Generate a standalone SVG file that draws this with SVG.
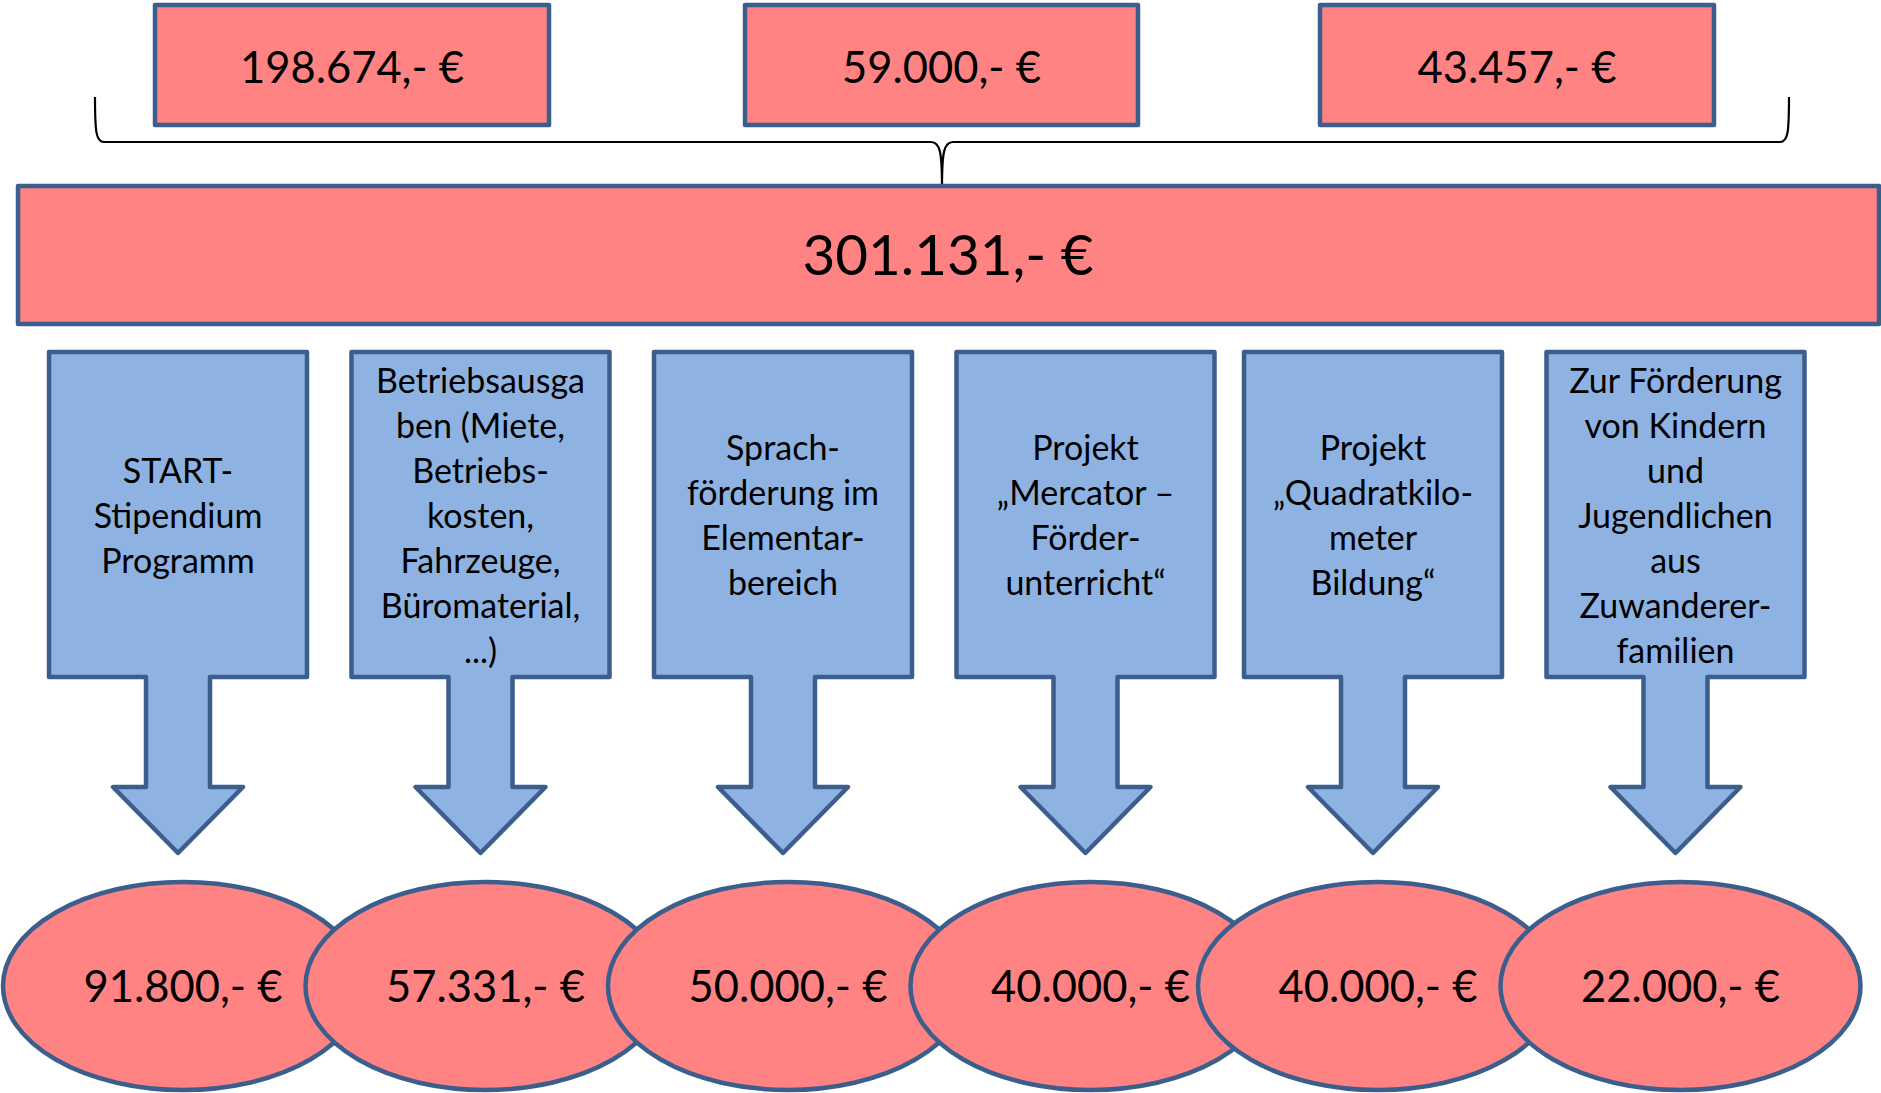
<svg xmlns="http://www.w3.org/2000/svg" width="1881" height="1093" viewBox="0 0 1881 1093">
<style>
.pink{fill:#FF8383;stroke:#3B5E8C;stroke-width:4.5;stroke-linejoin:round}
.blue{fill:#8EB3E2;stroke:#3B5E8C;stroke-width:4.5;stroke-linejoin:round}
.num{font-family:Lato,"Open Sans","Liberation Sans",sans-serif;font-size:43.5px;fill:#000;text-anchor:middle}
.big{font-size:56.5px}
.lbl{font-family:Lato,"Open Sans","Liberation Sans",sans-serif;font-size:34px;fill:#000;text-anchor:middle}
.brace{fill:none;stroke:#000;stroke-width:2.2}
</style>
<rect width="1881" height="1093" fill="#fff"/>
<g id="connectors">
<path class="brace" d="M95,97 C95,132 96,142 104,142 L931,142 C940,142 942,152 942,187 C942,152 944,142 953,142 L1780,142 C1788,142 1789,132 1789,97"/>
</g>
<g id="src1"><rect class="pink" x="155" y="5" width="394" height="120"/><text class="num" x="352" y="83">198.674,- €</text></g>
<g id="src2"><rect class="pink" x="745" y="5" width="393" height="120"/><text class="num" x="941.5" y="83">59.000,- €</text></g>
<g id="src3"><rect class="pink" x="1320" y="5" width="394" height="120"/><text class="num" x="1517" y="83">43.457,- €</text></g>
<g id="total"><rect class="pink" x="18" y="186" width="1861" height="138"/><text class="num big" x="948" y="275">301.131,- €</text></g>
<g id="arrow1"><path class="blue" d="M49,352 H307 V677 H210 V787 H243 L178,853 L113,787 H146 V677 H49 Z"/>
<text class="lbl"><tspan x="178" y="483">START-</tspan><tspan x="178" y="528">Stipendium</tspan><tspan x="178" y="573">Programm</tspan></text></g>
<g id="arrow2"><path class="blue" d="M351.5,352 H609.5 V677 H512.5 V787 H545.5 L480.5,853 L415.5,787 H448.5 V677 H351.5 Z"/>
<text class="lbl"><tspan x="480.5" y="393">Betriebsausga</tspan><tspan x="480.5" y="438">ben (Miete,</tspan><tspan x="480.5" y="483">Betriebs-</tspan><tspan x="480.5" y="528">kosten,</tspan><tspan x="480.5" y="573">Fahrzeuge,</tspan><tspan x="480.5" y="618">Büromaterial,</tspan><tspan x="480.5" y="663">...)</tspan></text></g>
<g id="arrow3"><path class="blue" d="M654,352 H912 V677 H815 V787 H848 L783,853 L718,787 H751 V677 H654 Z"/>
<text class="lbl"><tspan x="783" y="460">Sprach-</tspan><tspan x="783" y="505">förderung im</tspan><tspan x="783" y="550">Elementar-</tspan><tspan x="783" y="595">bereich</tspan></text></g>
<g id="arrow4"><path class="blue" d="M956.5,352 H1214.5 V677 H1117.5 V787 H1150.5 L1085.5,853 L1020.5,787 H1053.5 V677 H956.5 Z"/>
<text class="lbl"><tspan x="1085.5" y="460">Projekt</tspan><tspan x="1085.5" y="505">„Mercator –</tspan><tspan x="1085.5" y="550">Förder-</tspan><tspan x="1085.5" y="595">unterricht“</tspan></text></g>
<g id="arrow5"><path class="blue" d="M1244,352 H1502 V677 H1405 V787 H1438 L1373,853 L1308,787 H1341 V677 H1244 Z"/>
<text class="lbl"><tspan x="1373" y="460">Projekt</tspan><tspan x="1373" y="505">„Quadratkilo-</tspan><tspan x="1373" y="550">meter</tspan><tspan x="1373" y="595">Bildung“</tspan></text></g>
<g id="arrow6"><path class="blue" d="M1546.5,352 H1804.5 V677 H1707.5 V787 H1740.5 L1675.5,853 L1610.5,787 H1643.5 V677 H1546.5 Z"/>
<text class="lbl"><tspan x="1675.5" y="393">Zur Förderung</tspan><tspan x="1675.5" y="438">von Kindern</tspan><tspan x="1675.5" y="483">und</tspan><tspan x="1675.5" y="528">Jugendlichen</tspan><tspan x="1675.5" y="573">aus</tspan><tspan x="1675.5" y="618">Zuwanderer-</tspan><tspan x="1675.5" y="663">familien</tspan></text></g>
<g id="amount1"><ellipse class="pink" cx="183" cy="986" rx="180" ry="104"/><text class="num" x="183" y="1002">91.800,- €</text></g>
<g id="amount2"><ellipse class="pink" cx="485.5" cy="986" rx="180" ry="104"/><text class="num" x="485.5" y="1002">57.331,- €</text></g>
<g id="amount3"><ellipse class="pink" cx="788" cy="986" rx="180" ry="104"/><text class="num" x="788" y="1002">50.000,- €</text></g>
<g id="amount4"><ellipse class="pink" cx="1090.5" cy="986" rx="180" ry="104"/><text class="num" x="1090.5" y="1002">40.000,- €</text></g>
<g id="amount5"><ellipse class="pink" cx="1378" cy="986" rx="180" ry="104"/><text class="num" x="1378" y="1002">40.000,- €</text></g>
<g id="amount6"><ellipse class="pink" cx="1680.5" cy="986" rx="180" ry="104"/><text class="num" x="1680.5" y="1002">22.000,- €</text></g>
</svg>
